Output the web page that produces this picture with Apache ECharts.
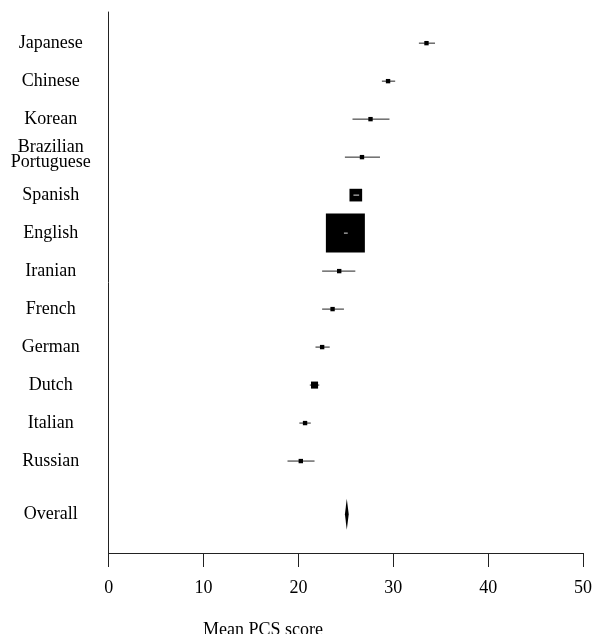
<!DOCTYPE html>
<html>
<head>
<meta charset="utf-8">
<script src="https://cdn.jsdelivr.net/npm/echarts@6/dist/echarts.min.js"></script>
<style>
  html, body { margin: 0; padding: 0; background: #fff; }
  #chart { width: 595px; height: 634px; }
</style>
</head>
<body>
<div id="chart"></div>
<script>
// study rows, top to bottom
const languages = ['Japanese', 'Chinese', 'Korean', 'Brazilian\nPortuguese', 'Spanish', 'English',
  'Iranian', 'French', 'German', 'Dutch', 'Italian', 'Russian'];
const means = [33.5, 29.45, 27.6, 26.7, 26.05, 24.95, 24.3, 23.6, 22.5, 21.7, 20.7, 20.25];
const lower = [32.7, 28.8, 25.7, 24.9, 25.8, 24.8, 22.5, 22.5, 21.8, 21.2, 20.1, 18.85];
const upper = [34.4, 30.2, 29.6, 28.6, 26.4, 25.2, 26.0, 24.8, 23.3, 22.2, 21.3, 21.7];
// relative weights (%), drawn as square area
const weights = [1.0, 1.0, 1.0, 1.0, 8.4, 79.6, 1.0, 1.0, 1.0, 2.6, 1.0, 1.0];

const overall = { label: 'Overall', mean: 25.1, lower: 24.9, upper: 25.3 };
const xTicks = [0, 10, 20, 30, 40, 50];

const FONT = '"Liberation Serif", "DejaVu Serif", serif';
const overallRow = -0.4;

const chart = echarts.init(document.getElementById('chart'));

const studyData = languages.map((name, i) => [means[i], languages.length - i, lower[i], upper[i], weights[i], name]);

function renderStudy(params, api) {
  const mid = api.coord([api.value(0), api.value(1)]);
  const lo = api.coord([api.value(2), api.value(1)]);
  const hi = api.coord([api.value(3), api.value(1)]);
  const side = 4.37 * Math.sqrt(api.value(4));
  const name = languages[params.dataIndex];
  const multi = name.indexOf('\n') >= 0;
  const children = [
    {
      type: 'line',
      shape: { x1: lo[0], y1: lo[1], x2: hi[0], y2: hi[1] },
      style: { stroke: '#222', lineWidth: 1 }
    },
    {
      type: 'rect',
      shape: { x: mid[0] - side / 2, y: mid[1] - side / 2, width: side, height: side },
      style: { fill: '#000' }
    },
    {
      type: 'text',
      x: params.coordSys.x - 58,
      y: mid[1] - (multi ? 2.5 : 0),
      style: {
        text: name,
        font: '18px ' + FONT,
        fill: '#000',
        align: 'center',
        verticalAlign: 'middle',
        lineHeight: 15
      }
    }
  ];
  // CI narrower than the box: show it in white over the box
  if (side > hi[0] - lo[0]) {
    children.push({
      type: 'line',
      shape: { x1: lo[0], y1: lo[1], x2: hi[0], y2: hi[1] },
      style: { stroke: '#ddd', lineWidth: 1 }
    });
  }
  return { type: 'group', children: children };
}

function renderOverall(params, api) {
  const mid = api.coord([api.value(0), api.value(1)]);
  const lo = api.coord([api.value(2), api.value(1)]);
  const hi = api.coord([api.value(3), api.value(1)]);
  const h = 15.5;
  return {
    type: 'group',
    children: [
      {
        type: 'polygon',
        shape: { points: [[lo[0], mid[1]], [mid[0], mid[1] - h], [hi[0], mid[1]], [mid[0], mid[1] + h]] },
        style: { fill: '#000' }
      },
      {
        type: 'text',
        x: params.coordSys.x - 58,
        y: mid[1],
        style: { text: overall.label, font: '18px ' + FONT, fill: '#000', align: 'center', verticalAlign: 'middle' }
      }
    ]
  };
}

const option = {
  animation: false,
  title: {
    text: 'Mean PCS score',
    left: 198,
    top: 616,
    textStyle: { fontFamily: FONT, fontSize: 18, fontWeight: 'normal', color: '#000' }
  },
  grid: { left: 108.7, right: 10, top: 12, bottom: 81, containLabel: false },
  xAxis: {
    type: 'value',
    min: xTicks[0],
    max: xTicks[xTicks.length - 1],
    interval: 10,
    splitLine: { show: false },
    axisLine: { onZero: false, lineStyle: { color: '#222', width: 1 } },
    axisTick: { show: true, length: 14, lineStyle: { color: '#222' } },
    axisLabel: { margin: 26, color: '#000', fontFamily: FONT, fontSize: 18 }
  },
  yAxis: {
    type: 'value',
    min: -1.42,
    max: 12.82,
    splitLine: { show: false },
    axisTick: { show: false },
    axisLabel: { show: false },
    axisLine: { show: true, onZero: false, lineStyle: { color: '#222', width: 1 } }
  },
  series: [
    {
      type: 'custom',
      renderItem: renderStudy,
      encode: { x: [0, 2, 3], y: 1 },
      data: studyData
    },
    {
      type: 'custom',
      renderItem: renderOverall,
      encode: { x: [0, 2, 3], y: 1 },
      data: [[overall.mean, overallRow, overall.lower, overall.upper]]
    }
  ]
};

chart.setOption(option);
</script>
</body>
</html>
